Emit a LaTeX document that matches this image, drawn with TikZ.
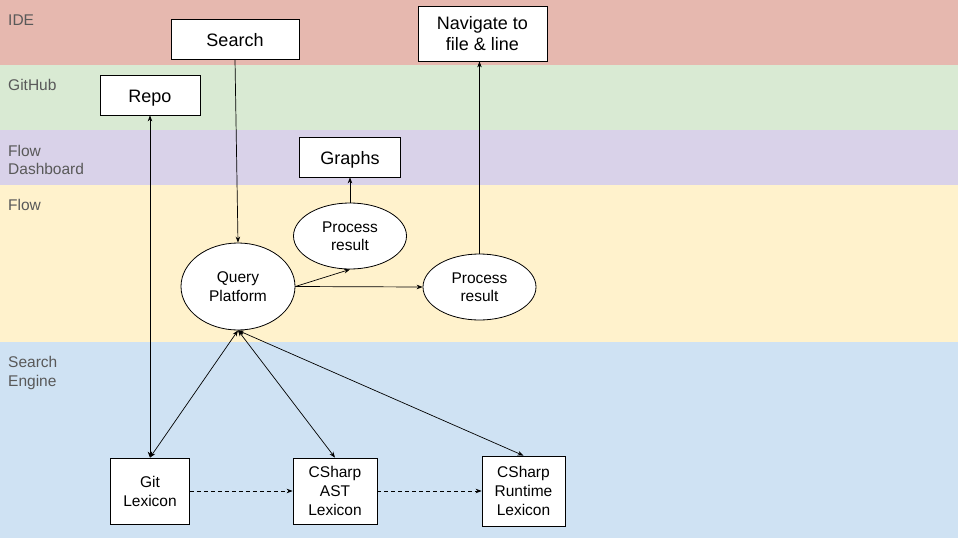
\documentclass[tikz,border=0pt]{standalone}
\usepackage{fontspec}
\setmainfont{Liberation Sans}
\usetikzlibrary{shapes.geometric,arrows.meta}
\definecolor{ideband}{HTML}{E6B8AF}
\definecolor{ghband}{HTML}{D9EAD3}
\definecolor{dashband}{HTML}{D9D2E9}
\definecolor{flowband}{HTML}{FFF2CC}
\definecolor{seband}{HTML}{CFE2F3}
\definecolor{lanegray}{HTML}{595959}
\begin{document}
\begin{tikzpicture}[x=1pt,y=-1pt,
  lanelabel/.style={font=\fontsize{15.5}{18.5}\selectfont, text=lanegray, anchor=base west, align=left, inner sep=0pt},
  bigbox/.style={draw=black, fill=white, line width=0.8pt, inner sep=0pt, font=\fontsize{18}{21}\selectfont, align=center},
  onebox/.style={bigbox, text height=15pt, text depth=0pt},
  lexbox/.style={draw=black, fill=white, line width=0.8pt, inner sep=0pt, font=\fontsize{15.5}{19}\selectfont, align=center},
  oval/.style={ellipse, draw=black, fill=white, line width=0.8pt, inner sep=0pt, font=\fontsize{15.5}{18.5}\selectfont, align=center},
  conn/.style={line width=0.7pt, -{Stealth[length=6pt,width=4.5pt]}},
  biconn/.style={line width=0.7pt, {Stealth[length=6pt,width=4.5pt]}-{Stealth[length=6pt,width=4.5pt]}},
  dconn/.style={line width=0.7pt, dashed, dash pattern=on 4pt off 3pt, -{Stealth[length=6pt,width=4.5pt]}}
]
\useasboundingbox (0,0) rectangle (958,538);
% bands
\fill[ideband] (0,0) rectangle (958,65);
\fill[ghband] (0,65) rectangle (958,130);
\fill[dashband] (0,130) rectangle (958,185);
\fill[flowband] (0,185) rectangle (958,342);
\fill[seband] (0,342) rectangle (958,538);
% lane labels
\node[lanelabel] (lIDE) at (8,25) {IDE};
\node[lanelabel] (lGH) at (8,90) {GitHub};
\node[lanelabel] (lFD1) at (8,156) {Flow};
\node[lanelabel] (lFD2) at (8,174) {Dashboard};
\node[lanelabel] (lFL) at (8,210) {Flow};
\node[lanelabel] (lSE1) at (8,367) {Search};
\node[lanelabel] (lSE2) at (8,386) {Engine};
% nodes
\node[onebox, minimum width=128pt, minimum height=40pt] (Search) at (235,39) {Search};
\node[onebox, minimum width=100pt, minimum height=40pt] (Repo) at (150,95) {Repo};
\node[bigbox, minimum width=129pt, minimum height=55pt] (Nav) at (482.5,33.5) {Navigate to\\file \& line};
\node[onebox, minimum width=101pt, minimum height=40pt] (Graphs) at (350,157) {Graphs};
\node[oval, minimum width=113pt, minimum height=66pt] (PR1) at (350,236) {Process\\result};
\node[oval, minimum width=114pt, minimum height=87pt] (QP) at (238,286.5) {Query\\Platform};
\node[oval, minimum width=113pt, minimum height=66pt] (PR2) at (479.5,287) {Process\\result};
\node[lexbox, minimum width=79pt, minimum height=66pt] (Git) at (150,491) {Git\\Lexicon};
\node[lexbox, minimum width=84pt, minimum height=66pt] (AST) at (335,491) {CSharp\\AST\\Lexicon};
\node[lexbox, minimum width=83pt, minimum height=70pt] (RT) at (523.5,491) {CSharp\\Runtime\\Lexicon};
% connectors
\draw[conn] (Search.south) -- (QP.north);
\draw[biconn] (Repo.south) -- (Git.north);
\draw[conn] (QP.east) -- (PR1.south);
\draw[conn] (QP.east) -- (PR2.west);
\draw[conn] (PR1.north) -- (Graphs.south);
\draw[conn] (PR2.north) -- (PR2.north |- Nav.south);
\draw[biconn] (QP.south) -- (Git.north);
\draw[biconn] (QP.south) -- (AST.north);
\draw[biconn] (QP.south) -- (RT.north);
\draw[dconn] (Git.east) -- (AST.west);
\draw[dconn] (AST.east) -- (RT.west);
\end{tikzpicture}
\end{document}
